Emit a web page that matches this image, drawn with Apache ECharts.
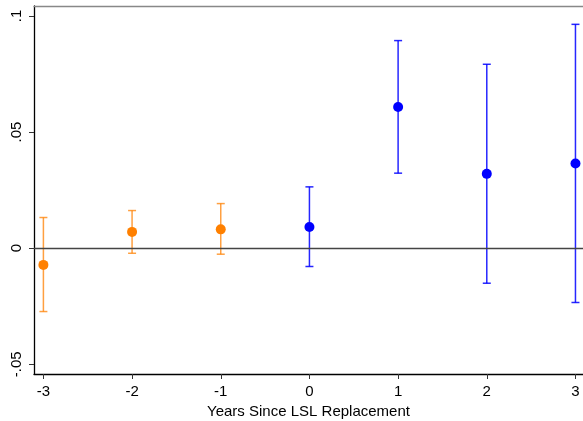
<!DOCTYPE html>
<html>
<head>
<meta charset="utf-8">
<script src="https://cdn.jsdelivr.net/npm/echarts@6/dist/echarts.min.js"></script>
<style>html,body{margin:0;padding:0;background:#fff;}#c{width:583px;height:421px;}</style>
</head>
<body>
<div id="c"></div>
<script>
var years = [-3, -2, -1, 0, 1, 2, 3];
var estimates = [-0.0072, 0.0070, 0.0081, 0.0091, 0.0608, 0.0320, 0.0365];
var lowerCI = [-0.0273, -0.0022, -0.0026, -0.0079, 0.0323, -0.0151, -0.0234];
var upperCI = [0.0132, 0.0162, 0.0192, 0.0264, 0.0894, 0.0792, 0.0964];
var xTicks = [-3, -2, -1, 0, 1, 2, 3];
var yTicks = [-0.05, 0, 0.05, 0.1];
var yTickLabels = ['-.05', '0', '.05', '.1'];
var xTitle = 'Years Since LSL Replacement';

var ORANGE = '#FF8000', BLUE = '#0000FF';
function colorFor(x) { return x < 0 ? ORANGE : BLUE; }

var pre = [], post = [], bars = [];
for (var i = 0; i < years.length; i++) {
  if (years[i] < 0) pre.push([years[i], estimates[i]]);
  else post.push([years[i], estimates[i]]);
  bars.push([years[i], lowerCI[i], upperCI[i]]);
}

var chart = echarts.init(document.getElementById('c'), null, {renderer: 'canvas'});
var font = 'Liberation Sans, Arial, sans-serif';
chart.setOption({
  animation: false,
  backgroundColor: '#fff',
  grid: {left: 34, right: 0, top: 6, bottom: 47, containLabel: false, outerBoundsMode: 'none'},
  xAxis: [{
    type: 'value', min: -3.106, max: 3.085,
    splitLine: {show: false},
    axisLine: {show: true, onZero: false, lineStyle: {color: '#000', width: 1.3}},
    axisTick: {show: true, length: 5, customValues: xTicks, lineStyle: {color: '#333'}},
    axisLabel: {customValues: xTicks, margin: 10, color: '#000', fontSize: 15, fontFamily: font,
      formatter: function (v) { return String(v); }},
    name: xTitle, nameLocation: 'middle', nameGap: 30,
    nameTextStyle: {color: '#000', fontSize: 15, fontFamily: font}
  }, {
    type: 'value', position: 'top', min: -3.106, max: 3.085,
    splitLine: {show: false},
    axisLine: {show: true, onZero: false, lineStyle: {color: '#888', width: 1.3}},
    axisTick: {show: false}, axisLabel: {show: false}
  }],
  yAxis: {
    type: 'value', min: -0.0542, max: 0.1043,
    splitLine: {show: false},
    axisLine: {show: true, onZero: false, lineStyle: {color: '#000', width: 1.3}},
    axisTick: {show: true, length: 5, customValues: yTicks, lineStyle: {color: '#333'}},
    axisLabel: {customValues: yTicks, rotate: 90, margin: 10, color: '#000', fontSize: 15, fontFamily: font,
      formatter: function (v) {
        for (var k = 0; k < yTicks.length; k++) if (Math.abs(v - yTicks[k]) < 1e-9) return yTickLabels[k];
        return '';
      }}
  },
  series: [{
    type: 'custom',
    data: bars,
    renderItem: function (params, api) {
      var x = api.value(0);
      var lo = api.coord([x, api.value(1)]);
      var hi = api.coord([x, api.value(2)]);
      var c = colorFor(x);
      var hw = 4;
      var style = {stroke: c, lineWidth: 1.5, opacity: x < 0 ? 0.75 : 0.85};
      return {type: 'group', children: [
        {type: 'line', shape: {x1: lo[0], y1: lo[1], x2: hi[0], y2: hi[1]}, style: style},
        {type: 'line', shape: {x1: lo[0] - hw, y1: lo[1], x2: lo[0] + hw, y2: lo[1]}, style: style},
        {type: 'line', shape: {x1: hi[0] - hw, y1: hi[1], x2: hi[0] + hw, y2: hi[1]}, style: style}
      ]};
    },
    z: 2
  }, {
    type: 'scatter', data: pre, symbol: 'circle', symbolSize: 10,
    itemStyle: {color: ORANGE, opacity: 1}, z: 3,
    markLine: {
      silent: true, symbol: 'none', label: {show: false},
      lineStyle: {color: '#444', width: 1.3, type: 'solid'},
      data: [{yAxis: 0}]
    }
  }, {
    type: 'scatter', data: post, symbol: 'circle', symbolSize: 10,
    itemStyle: {color: BLUE, opacity: 1}, z: 3
  }]
});
</script>
</body>
</html>
